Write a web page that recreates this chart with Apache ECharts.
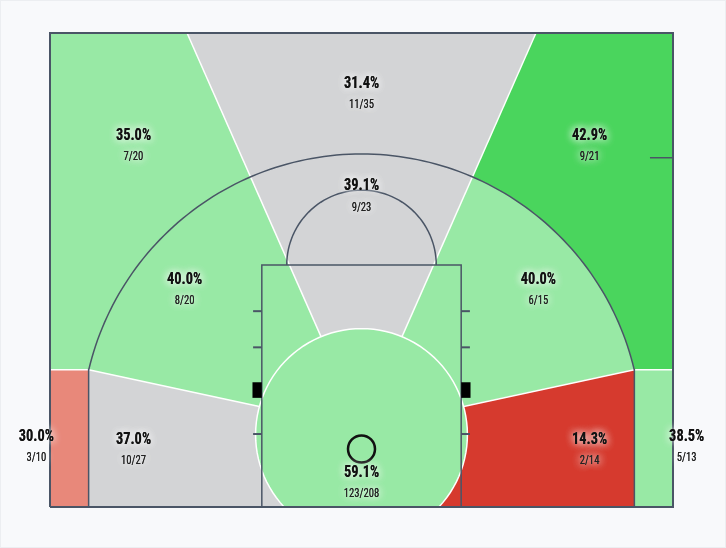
<!DOCTYPE html>
<html>
<head>
<meta charset="utf-8">
<script src="https://cdn.jsdelivr.net/npm/echarts@6/dist/echarts.min.js"></script>
<style>
html,body{margin:0;padding:0;background:#f8f9fb;}
#chart{width:726px;height:548px;}
#frame{position:absolute;left:0;top:0;width:724px;height:546px;border:1px solid #eceef1;pointer-events:none;}
</style>
</head>
<body>
<div id="chart"></div>
<div id="frame"></div>
<script>
// ---- data (draw order) ----
const zoneNames = ['Left Wing 3', 'Top 3', 'Right Wing 3', 'Left Corner 3', 'Right Corner 3',
  'Left Baseline Mid', 'Left Wing Mid', 'Top Mid', 'Right Wing Mid', 'Right Baseline Mid', 'Restricted Area'];
const made     = [7, 11, 9, 3, 5, 10, 8, 9, 6, 2, 123];
const attempts = [20, 35, 21, 10, 13, 27, 20, 23, 15, 14, 208];
const tiers    = ['above', 'avg', 'hot', 'below', 'above', 'avg', 'above', 'avg', 'above', 'cold', 'above'];

// ---- style ----
const tierColors = { hot: '#4ad55d', above: '#98e9a5', avg: '#d3d4d6', below: '#e8887a', cold: '#d63a2e' };
const LINE = '#4a5566';

// ---- court geometry (feet) ----
const C = [0, 5.8];      // arc centre
const F = [0, 6.3];      // zone ray focus
const R3 = 22.5, CX = 21.9, CY = 11, TOPX = 14, RA = 8.5, XMAX = 25, YMAX = 38;
const labelPos = [[-18.3, 28.95], [0, 33.1], [18.3, 28.95], [-26.1, 4.8], [26.1, 4.8],
  [-18.3, 4.6], [-14.2, 17.4], [0, 24.9], [14.2, 17.4], [18.3, 4.6], [0, 1.96]];

function arcPts(c, r, a0, a1, n) {
  const pts = [];
  for (let k = 0; k <= n; k++) {
    const a = a0 + (a1 - a0) * k / n;
    pts.push([c[0] + r * Math.cos(a), c[1] + r * Math.sin(a)]);
  }
  return pts;
}
function rayArc(p, q) {
  const d = [q[0] - p[0], q[1] - p[1]], f = [p[0] - C[0], p[1] - C[1]];
  const a = d[0] * d[0] + d[1] * d[1], b = 2 * (f[0] * d[0] + f[1] * d[1]), cc = f[0] * f[0] + f[1] * f[1] - R3 * R3;
  const t = (-b + Math.sqrt(b * b - 4 * a * cc)) / (2 * a);
  return [p[0] + t * d[0], p[1] + t * d[1]];
}
const IL = rayArc(F, [-TOPX, YMAX]), IR = rayArc(F, [TOPX, YMAX]);
const ang = p => Math.atan2(p[1] - C[1], p[0] - C[0]);
const aCL = ang([-CX, CY]), aCR = ang([CX, CY]), aL = ang(IL), aR = ang(IR);
const th0 = Math.asin(-C[1] / RA);

const zonePolys = [
  [[-XMAX, CY], [-XMAX, YMAX], [-TOPX, YMAX], F],
  [[-TOPX, YMAX], [TOPX, YMAX], F],
  [[TOPX, YMAX], [XMAX, YMAX], [XMAX, CY], F],
  [[-XMAX, 0], [-XMAX, CY], [-CX, CY], [-CX, 0]],
  [[XMAX, 0], [XMAX, CY], [CX, CY], [CX, 0]],
  [[-CX, 0], [-CX, CY], F, [0, 0]],
  [F].concat(arcPts(C, R3, aCL, aL, 40)),
  [F].concat(arcPts(C, R3, aL, aR, 40)),
  [F].concat(arcPts(C, R3, aR, aCR, 40)),
  [[CX, 0], [CX, CY], F, [0, 0]],
  arcPts(C, RA, th0, Math.PI - th0, 80)
];
const whiteLines = [
  [[-TOPX, YMAX], F], [[TOPX, YMAX], F], [[-CX, CY], F], [[CX, CY], F],
  [[-XMAX, CY], [-CX, CY]], [[XMAX, CY], [CX, CY]]
];

const chart = echarts.init(document.getElementById('chart'));
const idx = zoneNames.map((n, i) => [i, 0]);
const mapPts = (api, pts) => pts.map(p => api.coord(p));

chart.setOption({
  animation: false,
  backgroundColor: '#f8f9fb',
  grid: { left: 50, right: 53, top: 33, bottom: 41 },
  xAxis: { type: 'value', min: -XMAX, max: XMAX, show: false },
  yAxis: { type: 'value', min: 0, max: YMAX, show: false },
  series: [
    { // zones except restricted
      type: 'custom', z: 1, silent: true,
      data: idx.slice(0, 10),
      renderItem: (params, api) => {
        const i = api.value(0);
        return { type: 'polygon', shape: { points: mapPts(api, zonePolys[i]) },
          style: { fill: tierColors[tiers[i]], stroke: tierColors[tiers[i]], lineWidth: 0.5 } };
      }
    },
    { // white zone borders
      type: 'custom', z: 2, silent: true,
      data: whiteLines.map((l, i) => [i, 0]),
      renderItem: (params, api) => ({ type: 'polyline', shape: { points: mapPts(api, whiteLines[api.value(0)]) },
        style: { stroke: '#ffffff', lineWidth: 1.5, fill: null } })
    },
    { // restricted area
      type: 'custom', z: 3, silent: true,
      data: [idx[10]],
      renderItem: (params, api) => {
        const i = api.value(0);
        return { type: 'polygon', shape: { points: mapPts(api, zonePolys[i]) },
          style: { fill: tierColors[tiers[i]], stroke: '#ffffff', lineWidth: 1.5 } };
      }
    },
    { // court lines
      type: 'custom', z: 4, silent: true,
      data: [[0, 0]],
      renderItem: (params, api) => {
        const ln = (pts, w) => ({ type: 'polyline', shape: { points: mapPts(api, pts) }, style: { stroke: LINE, lineWidth: w || 1.5, fill: null } });
        const ch = [];
        const three = [[-CX, 0], [-CX, CY]].concat(arcPts(C, R3, aCL, aCR, 120)).concat([[CX, CY], [CX, 0]]);
        ch.push(ln(three, 1.5));
        ch.push(ln([[-8, 0], [-8, 19.4], [8, 19.4], [8, 0]], 1.5));
        ch.push(ln(arcPts([0, 19.4], 6, Math.PI, 0, 60), 1.5));
        [5.85, 12.8, 15.7].forEach(y => {
          ch.push(ln([[-8.7, y], [-8, y]], 2));
          ch.push(ln([[8, y], [8.7, y]], 2));
        });
        [[-8.75, -8], [8, 8.75]].forEach(([x0, x1]) => {
          const p0 = api.coord([x0, 10]), p1 = api.coord([x1, 8.75]);
          ch.push({ type: 'rect', shape: { x: p0[0], y: p0[1], width: p1[0] - p0[0], height: p1[1] - p0[1] }, style: { fill: '#000' } });
        });
        ch.push(ln([[23.15, 28], [XMAX, 28]], 1.5));
        const h = api.coord([0, 4.65]);
        ch.push({ type: 'circle', shape: { cx: h[0], cy: h[1], r: 13.5 }, style: { fill: null, stroke: '#111', lineWidth: 2.5 } });
        ch.push(ln([[-XMAX, 0], [-XMAX, YMAX], [XMAX, YMAX], [XMAX, 0], [-XMAX, 0]], 2));
        return { type: 'group', children: ch };
      }
    },
    { // labels
      type: 'custom', z: 5, silent: true,
      data: idx,
      renderItem: (params, api) => {
        const i = api.value(0);
        const p = api.coord(labelPos[i]);
        const pct = (made[i] / attempts[i] * 100).toFixed(1) + '%';
        const base = { textAlign: 'center', textVerticalAlign: 'middle', align: 'center', verticalAlign: 'middle', x: 0, y: 0,
          fontFamily: "'Roboto Condensed', Roboto, sans-serif", textShadowColor: '#ffffff', textShadowBlur: 8 };
        const mk = (text, dy, size, weight, sx, fill) => ({
          type: 'text', x: p[0], y: p[1] + dy, scaleX: sx, scaleY: 1,
          style: Object.assign({}, base, { text: text, fontSize: size, fontWeight: weight, fill: fill })
        });
        return { type: 'group', children: [
          mk(pct, -10, 16, 'bold', 0.9, '#111'),
          mk(pct, -10, 16, 'bold', 0.9, '#111'),
          mk(made[i] + '/' + attempts[i], 11, 13, 'normal', 0.82, '#222'),
          mk(made[i] + '/' + attempts[i], 11, 13, 'normal', 0.82, '#222')
        ] };
      }
    }
  ]
});
</script>
</body>
</html>
